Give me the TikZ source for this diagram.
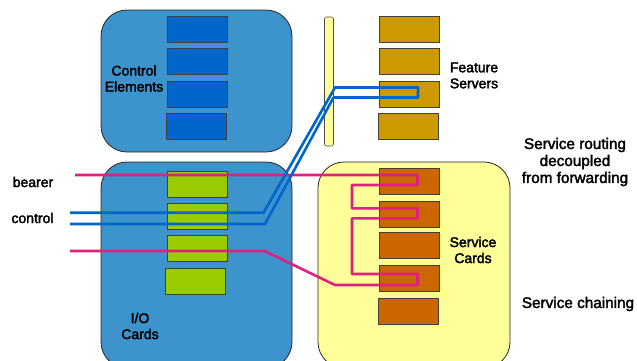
\documentclass[tikz,border=0pt]{standalone}
\usepackage{fontspec}
\setmainfont{Liberation Sans}
% slightly heavier lettering: fill and stroke the glyphs
\newcommand\heavyink{\special{pdf:literal direct 2 Tr 0.35 w}}
\begin{document}
\begin{tikzpicture}[x=1pt,y=-1pt,
  bigbox/.style={draw=black!85, line width=0.8pt, rounded corners=26pt, inner sep=0pt},
  card/.style={draw=black!75, line width=0.8pt, inner sep=0pt, minimum width=60pt, minimum height=26pt},
  ctlcard/.style={card, fill=ctlblue},
  iocard/.style={card, fill=iogreen},
  featcard/.style={card, fill=featgold},
  svccard/.style={card, fill=svcorange},
  lbl/.style={font=\heavyink\fontsize{14}{16}\selectfont, align=center, inner sep=0pt, text=black},
  biglbl/.style={lbl, font=\heavyink\fontsize{15.3}{17}\selectfont},
  bearerline/.style={draw=bearerpink, line width=2.6pt, line join=round},
  controlline/.style={draw=ctlline, line width=2.6pt, line join=round},
]
\definecolor{shelfblue}{HTML}{3D93CB}
\definecolor{ctlblue}{HTML}{0066CC}
\definecolor{iogreen}{HTML}{99CC00}
\definecolor{featgold}{HTML}{CC9900}
\definecolor{svcorange}{HTML}{CC6600}
\definecolor{svcyellow}{HTML}{FFFF99}
\definecolor{bearerpink}{HTML}{E0207F}
\definecolor{ctlline}{HTML}{0066CC}

\useasboundingbox (0,0) rectangle (637,360);
\clip (0,0) rectangle (637,360);

% shelves
\node[bigbox, fill=shelfblue, minimum width=191pt, minimum height=142pt] (ctlshelf) at (196.5,81) {};
\node[bigbox, fill=shelfblue, minimum width=191pt, minimum height=206pt] (ioshelf) at (196.5,265) {};
\node[bigbox, fill=svcyellow, minimum width=192pt, minimum height=206pt] (svcshelf) at (414,265) {};

% backplane bar
\node[draw=black!70, line width=0.6pt, fill=svcyellow, rounded corners=2pt, minimum width=9pt, minimum height=129pt, inner sep=0pt] (bar) at (329,81.5) {};

% control elements
\node[ctlcard] (ce1) at (197,29.5) {};
\node[ctlcard] (ce2) at (197,61.5) {};
\node[ctlcard] (ce3) at (197,94) {};
\node[ctlcard] (ce4) at (196.5,126.5) {};

% I/O cards
\node[iocard] (io1) at (197,184) {};
\node[iocard] (io2) at (197,216) {};
\node[iocard] (io3) at (197,248.5) {};
\node[iocard] (io4) at (195.5,281) {};

% feature servers
\node[featcard] (fs1) at (409,29.5) {};
\node[featcard] (fs2) at (409,61) {};
\node[featcard] (fs3) at (409,94) {};
\node[featcard] (fs4) at (408.5,126.5) {};

% service cards
\node[svccard] (sc1) at (409,181.5) {};
\node[svccard] (sc2) at (409,214) {};
\node[svccard] (sc3) at (409,245.7) {};
\node[svccard] (sc4) at (409,278.3) {};
\node[svccard] (sc5) at (408.5,311) {};

% labels
\node[lbl] (tce) at (134,78.5) {Control\\Elements};
\node[lbl] (tio) at (140,326) {I/O\\Cards};
\node[lbl] (tfs) at (474,75.5) {Feature\\Servers};
\node[lbl] (tsc) at (473,250) {Service\\Cards};
\node[biglbl] (troute) at (575,162) {Service routing\\decoupled\\from forwarding};
\node[biglbl] (tchain) at (578,304) {Service chaining};
\node[lbl] (tbearer) at (33,182) {bearer};
\node[lbl] (tcontrol) at (32.5,218) {control};

% route points
\coordinate (bIn) at (75,175);
\coordinate (bOut) at (70,251);
\coordinate (cIn) at (70,212.7);
\coordinate (cOut) at (70,224);

% bearer path, chained through the service cards
\draw[bearerline] (bIn) -- (417.5,175) -- (417.5,185) -- (352,185) -- (352,208.3)
  -- (417.5,208.3) -- (417.5,218.3) -- (352,218.3) -- (352,274) -- (417.5,274)
  -- (417.5,285) -- (335,285) -- (264.5,251) -- (bOut);

% control path, looped to a feature server
\draw[controlline] (cIn) -- (263.5,212.7) -- (335,87.5) -- (418,87.5)
  -- (418,97.5) -- (333.5,97.5) -- (265,224) -- (cOut);
\end{tikzpicture}
\end{document}
